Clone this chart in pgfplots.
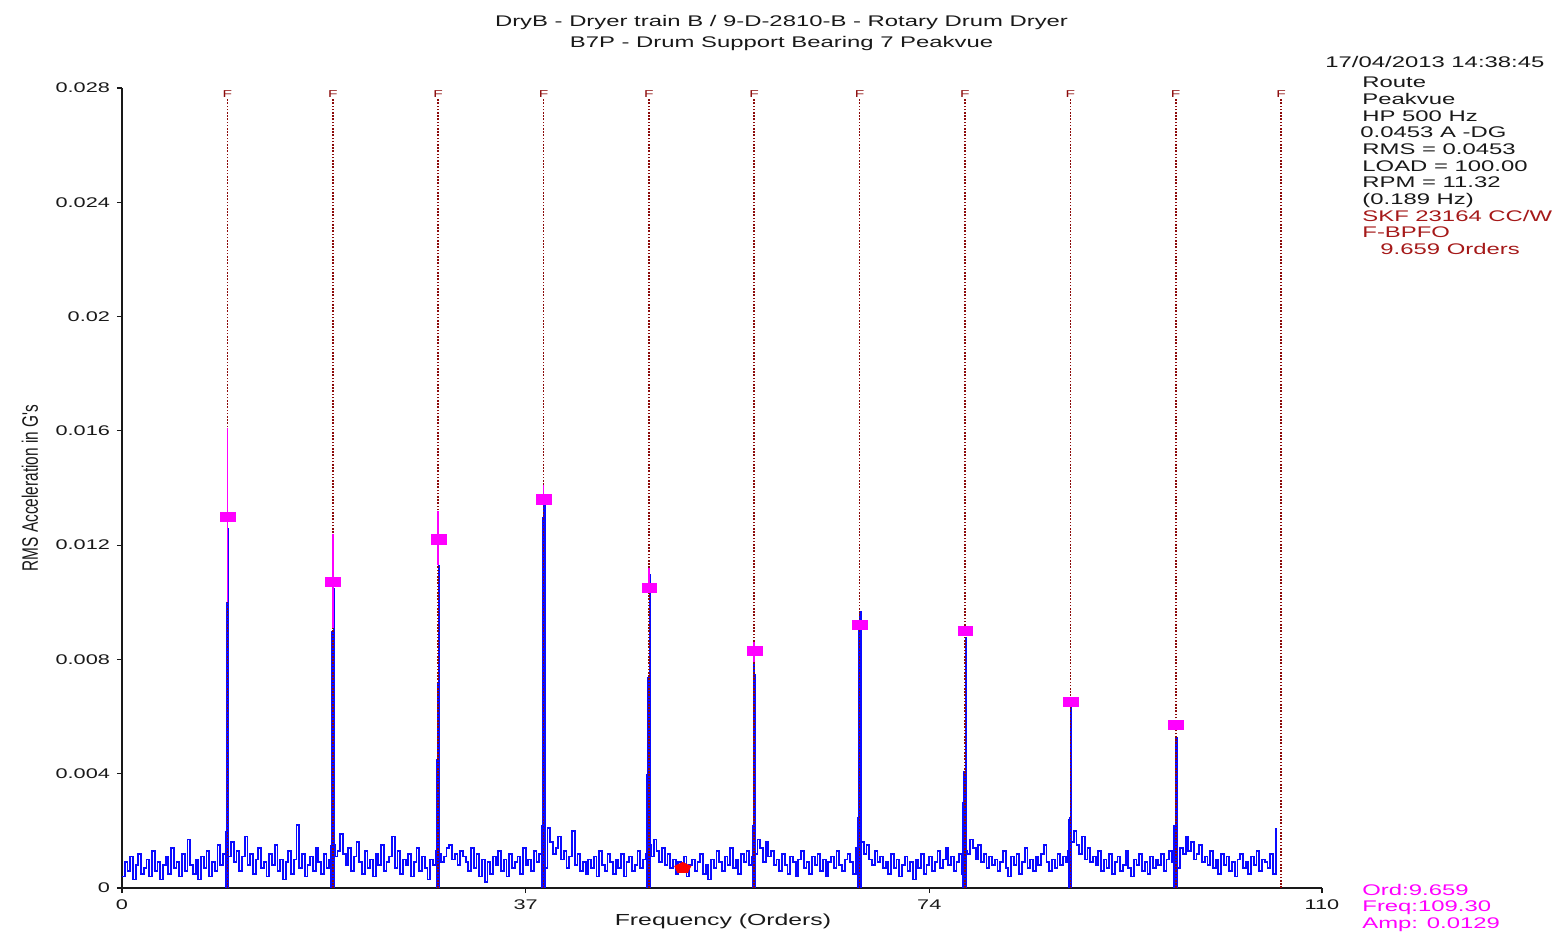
\documentclass[border=0pt]{standalone}
\usepackage{pgfplots}
\pgfplotsset{compat=1.18}
\usepackage{pgfplotstable}
\usepackage{graphicx}
\usepackage{fontspec}
\setmainfont[FakeStretch=1.55]{Liberation Sans}
\newfontfamily\plainfont{Liberation Sans}
\definecolor{fline}{RGB}{140,10,10}
\definecolor{txtred}{RGB}{165,25,25}
\definecolor{specblue}{RGB}{10,10,255}
\definecolor{mag}{RGB}{255,0,255}
\definecolor{txt}{RGB}{25,25,25}

% noise floor, in units of 0.0001 g, one value every 0.25 orders
\pgfplotstableread[row sep=\\]{v\\
4\\9\\6\\11\\3\\8\\12\\5\\7\\10\\4\\13\\6\\9\\3\\8\\11\\5\\14\\7\\
9\\4\\12\\6\\17\\8\\5\\10\\3\\11\\7\\13\\4\\9\\6\\15\\8\\12\\14\\11\\
16\\9\\13\\6\\11\\18\\8\\12\\5\\10\\14\\7\\9\\4\\12\\8\\15\\6\\10\\3\\
9\\13\\5\\10\\22\\7\\12\\4\\8\\11\\6\\14\\9\\5\\12\\7\\10\\15\\11\\13\\
19\\12\\8\\14\\6\\11\\16\\9\\5\\13\\7\\10\\4\\12\\8\\15\\6\\9\\11\\18\\
7\\13\\5\\10\\8\\12\\4\\9\\14\\6\\11\\7\\3\\10\\8\\13\\12\\9\\11\\14\\
15\\10\\12\\8\\13\\11\\9\\6\\14\\7\\12\\4\\10\\2\\9\\5\\11\\8\\13\\6\\
10\\4\\12\\7\\9\\11\\5\\14\\8\\10\\6\\13\\9\\12\\11\\7\\21\\16\\12\\14\\
18\\10\\13\\7\\11\\20\\8\\12\\6\\9\\5\\10\\7\\11\\4\\13\\8\\6\\12\\9\\
5\\10\\7\\12\\4\\9\\11\\6\\8\\13\\7\\10\\12\\15\\11\\17\\13\\9\\14\\8\\
12\\7\\10\\5\\9\\6\\11\\4\\8\\10\\6\\9\\12\\5\\8\\3\\10\\7\\13\\9\\
6\\11\\8\\14\\7\\10\\5\\12\\9\\13\\8\\11\\12\\17\\14\\9\\16\\11\\13\\8\\
10\\6\\12\\8\\5\\11\\9\\4\\10\\13\\7\\9\\5\\11\\8\\12\\6\\10\\4\\9\\
11\\7\\13\\8\\6\\10\\12\\9\\5\\14\\11\\16\\12\\15\\10\\8\\13\\9\\11\\7\\
9\\5\\12\\7\\10\\4\\8\\11\\6\\9\\3\\10\\7\\12\\5\\8\\11\\6\\9\\13\\
7\\10\\14\\8\\11\\6\\9\\12\\5\\13\\12\\17\\14\\10\\15\\9\\12\\7\\11\\8\\
10\\6\\9\\13\\7\\4\\11\\8\\12\\5\\9\\14\\7\\10\\6\\11\\8\\12\\15\\9\\
6\\10\\7\\12\\8\\11\\9\\13\\16\\20\\15\\12\\18\\10\\14\\9\\11\\8\\13\\6\\
10\\7\\12\\5\\9\\11\\6\\8\\13\\7\\4\\10\\8\\12\\6\\9\\5\\11\\7\\10\\
8\\12\\6\\10\\13\\9\\11\\7\\14\\12\\18\\13\\16\\10\\12\\15\\9\\11\\8\\13\\
7\\10\\5\\12\\8\\11\\6\\9\\4\\10\\12\\7\\9\\5\\11\\8\\13\\6\\10\\9\\
7\\12\\5\\21\\
}\noise

\begin{document}
\begin{tikzpicture}
\useasboundingbox (-61pt,-24.5pt) rectangle (720.5pt,444pt);
\begin{axis}[
  at={(0,0)}, anchor=south west, scale only axis,
  width=600pt, height=400pt,
  xmin=0, xmax=110, ymin=0, ymax=280,
  axis x line*=bottom, axis y line*=left,
  axis line style={txt, line width=0.6pt},
  tick align=outside, major tick length=2.5pt,
  tick style={txt, line width=0.6pt},
  xtick={0,37,74,110}, xticklabels={0,37,74,110},
  ytick={0,40,80,120,160,200,240,280},
  yticklabels={0,0.004,0.008,0.012,0.016,0.02,0.024,0.028},
  scaled y ticks=false,
  tick label style={font=\fontsize{7}{8}\selectfont, text=txt},
  clip=false,
]
% noise floor
\addplot[specblue, line width=0.9pt, const plot, mark=none]
  table[x expr=\coordindex*0.25, y=v] {\noise};
% spectral peaks (side lines)
\addplot[ycomb, specblue, line width=0.9pt, mark=none] coordinates {
 (9.51,20) (19.17,15) (28.83,45) (38.49,22) (48.15,40) (57.80,22) (67.46,25) (77.12,30) (86.78,24) (96.44,22)};
\addplot[ycomb, specblue, line width=1.1pt, mark=none] coordinates {
 (9.61,100) (19.27,90) (28.93,72) (38.59,130) (48.25,74) (57.91,80) (67.56,92) (77.22,41) (86.88,25) (96.54,22)};
\addplot[ycomb, specblue, line width=1.1pt, mark=none] coordinates {
 (9.74,126) (19.40,105) (29.06,113) (38.72,135) (48.38,110) (58.04,75) (67.69,97) (77.35,88) (87.01,67) (96.67,53)};
% fault frequency lines (BPFO harmonics)
\addplot[ycomb, fline, line width=0.8pt, dash pattern=on 0.8pt off 0.8pt, mark=none,
  nodes near coords={F},
  every node near coord/.append style={anchor=south, inner sep=0.4pt, text=fline,
    font=\fontsize{5}{5}\selectfont}] coordinates {
 (9.659,276) (19.318,276) (28.977,276) (38.636,276) (48.295,276) (57.954,276)
 (67.613,276) (77.272,276) (86.931,276) (96.590,276) (106.249,276)};
% magenta peak extents
\addplot[mag, line width=0.8pt, mark=none] coordinates {(9.659,100) (9.659,161)};
\addplot[mag, line width=0.8pt, mark=none] coordinates {(19.318,91) (19.318,124)};
\addplot[mag, line width=0.8pt, mark=none] coordinates {(28.977,113) (28.977,132)};
\addplot[mag, line width=0.8pt, mark=none] coordinates {(38.636,135) (38.636,141)};
\addplot[mag, line width=0.8pt, mark=none] coordinates {(48.295,105) (48.295,112)};
\addplot[mag, line width=0.8pt, mark=none] coordinates {(57.954,79) (57.954,86)};
% peak markers
\addplot[only marks, mark=square*, mag, mark size=2.3pt,
  mark options={xscale=1.6, draw=mag, fill=mag}] coordinates {
 (9.70,130) (19.36,107) (29.02,122) (38.68,136) (48.34,105) (58.00,83)
 (67.65,92) (77.31,90) (86.97,65) (96.63,57)};
% cursor
\addplot[only marks, mark=pentagon*, red, mark size=2.8pt,
  mark options={xscale=1.5, fill=red, draw=red}] coordinates {(51.4,7)};
\end{axis}

% titles
\node[anchor=base, font=\fontsize{7.7}{9}\selectfont, text=txt] at (329.75pt,430.75pt)
  {DryB - Dryer train B / 9-D-2810-B - Rotary Drum Dryer};
\node[anchor=base, font=\fontsize{7.7}{9}\selectfont, text=txt] at (329.75pt,420.25pt)
  {B7P - Drum Support Bearing 7 Peakvue};
% axis labels
\node[anchor=center, font=\fontsize{8}{9}\selectfont, text=txt] at (300.5pt,-16.5pt)
  {Frequency (Orders)};
\node[anchor=center, rotate=90, text=txt] at (-46pt,200pt)
  {\scalebox{1}[1.45]{\plainfont\fontsize{7.7}{9}\selectfont RMS Acceleration in G's}};
% info block
\begin{scope}[every node/.style={anchor=base west, inner sep=0pt,
    font=\fontsize{7.7}{9}\selectfont, text=txt}]
\node at (601.5pt,410.25pt) {17/04/2013 14:38:45};
\node at (620pt,400.25pt) {Route};
\node at (620pt,391.75pt) {Peakvue};
\node at (620pt,383.25pt) {HP 500 Hz};
\node at (619pt,375.25pt) {0.0453 A -DG};
\node at (620pt,366.75pt) {RMS = 0.0453};
\node at (620pt,358.25pt) {LOAD = 100.00};
\node at (620pt,350.25pt) {RPM = 11.32};
\node at (620pt,341.75pt) {(0.189 Hz)};
\node[text=txtred] at (620pt,333.25pt) {SKF 23164 CC/W};
\node[text=txtred] at (620pt,325.25pt) {F-BPFO};
\node[text=txtred] at (629pt,316.75pt) {9.659 Orders};
\node[text=mag] at (620pt,-3.75pt) {Ord:9.659};
\node[text=mag] at (620pt,-11.75pt) {Freq:109.30};
\node[text=mag] at (620pt,-20.25pt) {Amp: 0.0129};
\end{scope}
\end{tikzpicture}
\end{document}
